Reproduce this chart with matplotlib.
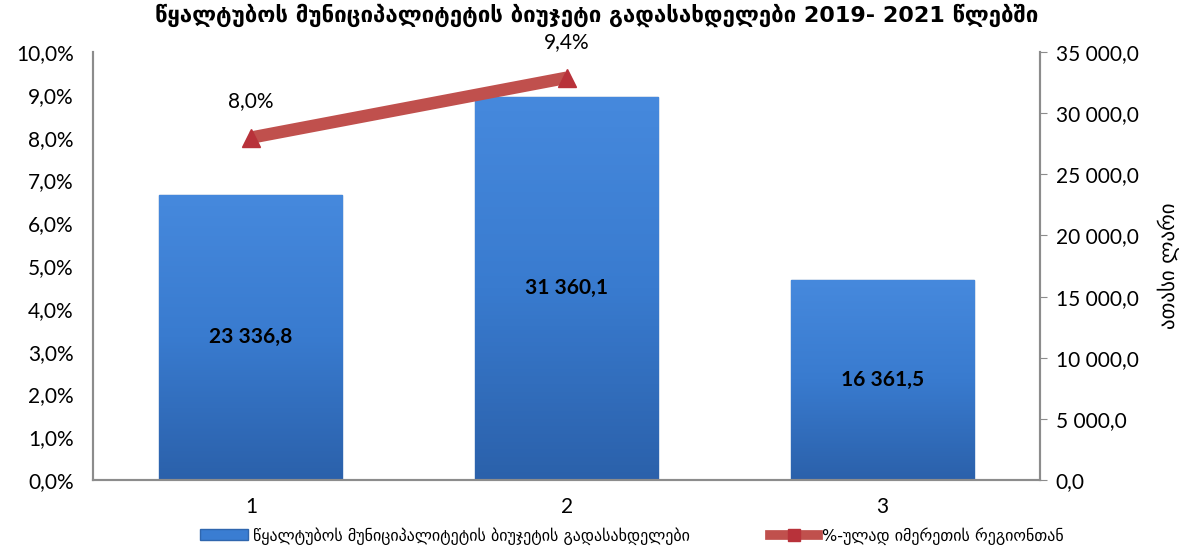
import numpy as np
import matplotlib
matplotlib.use("Agg")
import matplotlib.pyplot as plt
from matplotlib.lines import Line2D
from matplotlib.patches import Patch
from matplotlib.colors import LinearSegmentedColormap

# data
years = [1, 2, 3]
budget = [23336.8, 31360.1, 16361.5]
share_x = [1, 2]
share = [8.0, 9.4]
share_labels = ["8,0%", "9,4%"]

title = "წყალტუბოს მუნიციპალიტეტის ბიუჯეტი გადასახდელები 2019- 2021 წლებში"
bar_name = "წყალტუბოს მუნიციპალიტეტის ბიუჯეტის გადასახდელები"
line_name = "%-ულად იმერეთის რეგიონთან"
right_label = "ათასი ლარი"

fam = ["Lato", "DejaVu Sans"]
plt.rcParams["font.family"] = fam

def fmt_num(v):
    s = f"{v:,.1f}"
    return s.replace(",", " ").replace(".", ",")

fig = plt.figure(figsize=(11.93, 5.48), dpi=100)
ax = fig.add_axes([0.078, 0.124, 0.794, 0.781])
ax2 = ax.twinx()

# bars on right axis
bars = ax2.bar(years, budget, width=0.58, color="#3A7DD2", edgecolor="#2F66AE",
               linewidth=1.0, zorder=2)
grad = np.linspace(0, 1, 100).reshape(-1, 1)
cmap = LinearSegmentedColormap.from_list("b", ["#2B61AB", "#397BCF", "#4689DD"])
for b in bars:
    x0, y0 = b.get_x(), b.get_y()
    im = ax2.imshow(grad, cmap=cmap, aspect="auto", origin="lower",
                    extent=(x0, x0 + b.get_width(), y0, y0 + b.get_height()),
                    zorder=2)
    im.set_clip_path(b)
    ax2.text(b.get_x() + b.get_width() / 2, b.get_height() / 2,
             fmt_num(b.get_height()), ha="center", va="center",
             fontsize=15, fontweight="bold", color="black", zorder=5)

ax2.set_ylim(0, 35000)
ax2.set_yticks(np.arange(0, 35001, 5000))
ax2.set_yticklabels([fmt_num(v) for v in np.arange(0, 35001, 5000)])
ax2.set_ylabel(right_label, fontsize=15, labelpad=14, family="DejaVu Sans")

# line on left axis
ax.set_zorder(ax2.get_zorder() + 1)
ax.patch.set_visible(False)
ax.plot(share_x, share, color="#C0504D", linewidth=9, marker="^", markersize=13,
        markerfacecolor="#B8323A", markeredgecolor="#B8323A", solid_capstyle="butt",
        zorder=4)
for x, y, lab in zip(share_x, share, share_labels):
    ax.annotate(lab, (x, y), xytext=(0, 26), textcoords="offset points",
                ha="center", va="center", fontsize=15, zorder=6)

ax.set_ylim(0, 10)
ax.set_yticks(np.arange(0, 10.01, 1))
ax.set_yticklabels([f"{v:.1f}%".replace(".", ",") for v in np.arange(0, 10.01, 1)])
ax.set_xlim(0.5, 3.5)
ax.set_xticks(years)
ax.set_xticklabels([str(y) for y in years])

for a in (ax, ax2):
    a.spines["top"].set_visible(False)
    for s in ("left", "right", "bottom"):
        a.spines[s].set_color("#8C8C8C")
        a.spines[s].set_linewidth(1.5)
ax.tick_params(axis="y", length=0, labelsize=15, pad=14)
ax.tick_params(axis="x", length=0, labelsize=15, pad=12)
ax2.tick_params(axis="y", length=5, color="#8C8C8C", labelsize=15, pad=6)

fig.text(0.5, 0.972, title, ha="center", va="center", fontsize=16,
         fontweight="bold", family="DejaVu Sans")

handles = [Patch(facecolor="#3A7DD2", edgecolor="#2F66AE"),
           Line2D([0], [0], color="#C0504D", linewidth=7, marker="s",
                  markersize=8, markerfacecolor="#B8323A", markeredgecolor="#B8323A")]
fig.legend(handles, [bar_name, line_name], loc="lower center",
           bbox_to_anchor=(0.53, -0.02), ncol=2, frameon=False,
           columnspacing=5, handlelength=3, handletextpad=0.3,
           prop={"family": "DejaVu Sans", "size": 11.5})

fig.savefig("out.png", dpi=100)
